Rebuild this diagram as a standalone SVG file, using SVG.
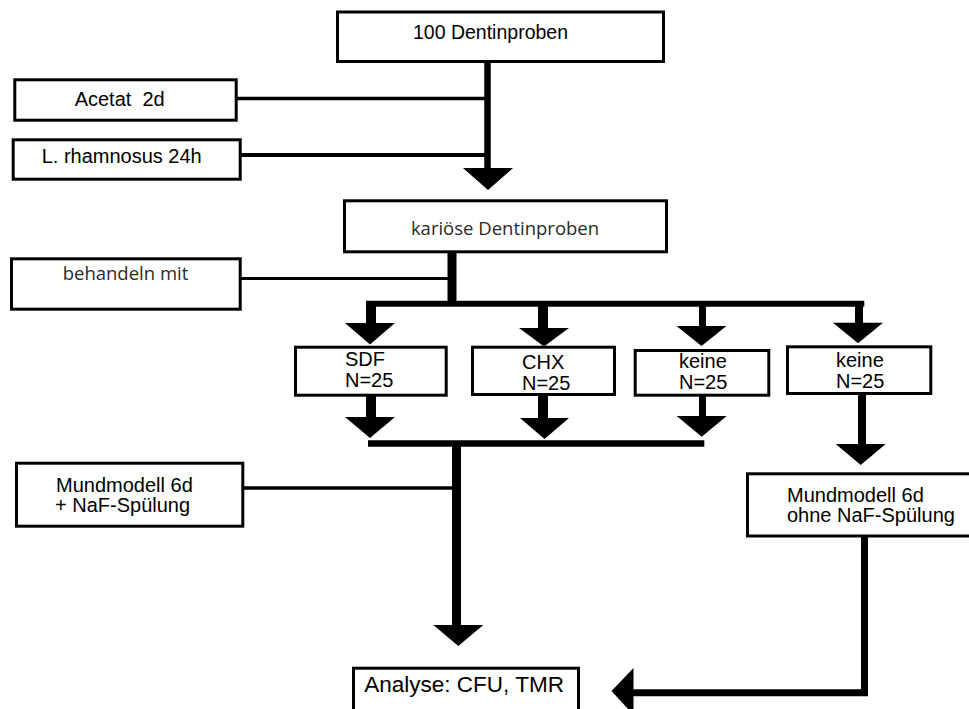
<svg xmlns="http://www.w3.org/2000/svg" width="969" height="709" viewBox="0 0 969 709">
<style>
.box{fill:#fff;stroke:#000;stroke-width:3}
.t{font-family:"Liberation Sans",Arial,sans-serif;font-size:20px;fill:#000}
.c{text-anchor:middle}
.g{font-family:"Open Sans","DejaVu Sans",sans-serif;font-size:18.5px;fill:#2a2a2a}
.ln{stroke:#000;fill:none}
.ah{fill:#000}
</style>
<rect width="969" height="709" fill="#fff"/>
<g id="connectors">
  <line class="ln" x1="487.5" y1="62" x2="487.5" y2="169" stroke-width="6.5"/>
  <polygon class="ah" points="463,168 513,168 488,190"/>
  <line class="ln" x1="237" y1="98.5" x2="488" y2="98.5" stroke-width="3.3"/>
  <line class="ln" x1="241" y1="155" x2="488" y2="155" stroke-width="4"/>
  <line class="ln" x1="452" y1="253" x2="452" y2="304" stroke-width="9"/>
  <line class="ln" x1="241" y1="278.5" x2="452" y2="278.5" stroke-width="3"/>
  <line class="ln" x1="366" y1="303.7" x2="864.3" y2="303.7" stroke-width="6"/>
  <line class="ln" x1="371" y1="304" x2="371" y2="324" stroke-width="10"/>
  <polygon class="ah" points="345,323 395,323 370,344.5"/>
  <line class="ln" x1="543" y1="304" x2="543" y2="329" stroke-width="10"/>
  <polygon class="ah" points="519,328 569,328 544,346.5"/>
  <line class="ln" x1="702.5" y1="304" x2="702.5" y2="327" stroke-width="7"/>
  <polygon class="ah" points="676.5,326 726.5,326 701.5,346"/>
  <line class="ln" x1="859" y1="304" x2="859" y2="323.5" stroke-width="8"/>
  <polygon class="ah" points="833,322.7 883,322.7 858,343.3"/>
  <line class="ln" x1="371" y1="396" x2="371" y2="418" stroke-width="10"/>
  <polygon class="ah" points="345,417 395,417 370,438"/>
  <line class="ln" x1="543" y1="396" x2="543" y2="419" stroke-width="10"/>
  <polygon class="ah" points="520,418 569,418 544.5,439"/>
  <line class="ln" x1="702.5" y1="396" x2="702.5" y2="417" stroke-width="7"/>
  <polygon class="ah" points="676.7,416 726.7,416 701.7,436.7"/>
  <line class="ln" x1="368" y1="443.5" x2="704.3" y2="443.5" stroke-width="6.5"/>
  <line class="ln" x1="456.5" y1="443" x2="456.5" y2="626" stroke-width="9"/>
  <polygon class="ah" points="433.3,625 483.3,625 458.3,646"/>
  <line class="ln" x1="244" y1="488" x2="452" y2="488" stroke-width="3.3"/>
  <line class="ln" x1="862" y1="395" x2="862" y2="445" stroke-width="8"/>
  <polygon class="ah" points="835.7,444 885.7,444 860.7,465"/>
  <polyline class="ln" points="864.5,537 864.5,692.8 632,692.8" stroke-width="7"/>
  <polygon class="ah" points="633.5,668 633.5,715 611.5,691"/>
</g>
<g id="n-100">
  <rect class="box" x="337.5" y="12" width="326" height="49.5"/>
  <text class="t c" x="490.5" y="39" style="font-size:19.5px">100 Dentinproben</text>
</g>
<g id="n-acetat">
  <rect class="box" x="14.8" y="79.8" width="221.4" height="40.4"/>
  <text class="t c" x="119.7" y="105.7" xml:space="preserve">Acetat  2d</text>
</g>
<g id="n-lrham">
  <rect class="box" x="13.2" y="139.8" width="227" height="39.4"/>
  <text class="t c" x="121.7" y="162.7">L. rhamnosus 24h</text>
</g>
<g id="n-karioese">
  <rect class="box" x="344.5" y="200.8" width="322" height="51"/>
  <text class="g c" x="505" y="235">kariöse Dentinproben</text>
</g>
<g id="n-behandeln">
  <rect class="box" x="11.5" y="258.8" width="228.7" height="50.4"/>
  <text class="g c" x="125.5" y="280">behandeln mit</text>
</g>
<g id="n-sdf">
  <rect class="box" x="295.5" y="347.2" width="150.7" height="48"/>
  <text class="t" x="345" y="366">SDF</text>
  <text class="t" x="345" y="387.3">N=25</text>
</g>
<g id="n-chx">
  <rect class="box" x="472.5" y="347.2" width="142" height="47.3"/>
  <text class="t" x="522" y="369">CHX</text>
  <text class="t" x="522" y="390">N=25</text>
</g>
<g id="n-keine1">
  <rect class="box" x="635.2" y="350.5" width="133.6" height="44.7"/>
  <text class="t" x="679" y="367.7">keine</text>
  <text class="t" x="679" y="388.7">N=25</text>
</g>
<g id="n-keine2">
  <rect class="box" x="787.5" y="346.8" width="143.3" height="46.7"/>
  <text class="t" x="836" y="366.7">keine</text>
  <text class="t" x="836" y="388.3">N=25</text>
</g>
<g id="n-mund-naf">
  <rect class="box" x="16.5" y="463.2" width="226.3" height="63"/>
  <text class="t" x="56" y="491.7">Mundmodell 6d</text>
  <text class="t" x="55" y="511.7">+ NaF-Spülung</text>
</g>
<g id="n-mund-ohne">
  <rect class="box" x="747.5" y="473.8" width="240" height="62.2"/>
  <text class="t" x="787" y="501.7">Mundmodell 6d</text>
  <text class="t" x="787" y="522.3">ohne NaF-Spülung</text>
</g>
<g id="n-analyse">
  <rect class="box" x="353.5" y="668.2" width="225" height="60"/>
  <text class="t" x="364.3" y="692" style="font-size:22.5px">Analyse: CFU, TMR</text>
</g>
</svg>
